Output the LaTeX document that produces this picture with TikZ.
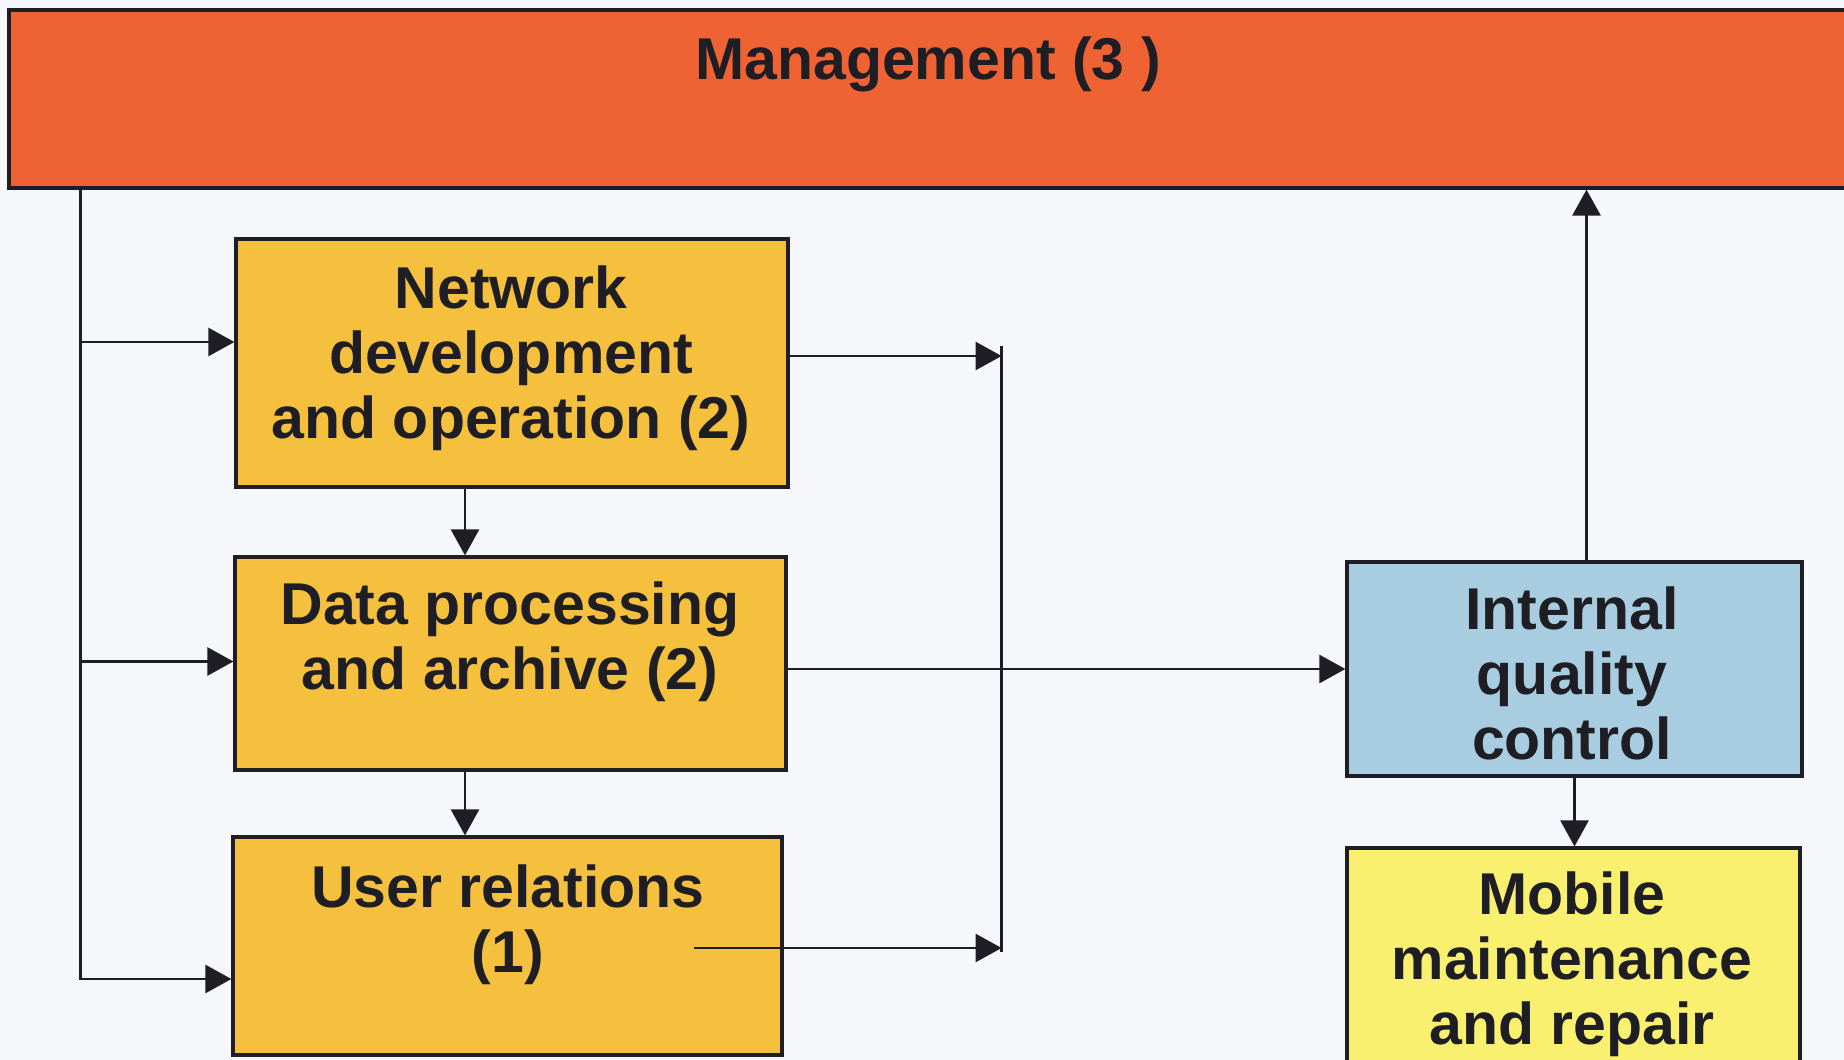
\documentclass[tikz,border=0pt]{standalone}
\usepackage{fontspec}
\setmainfont{Liberation Sans}
\usetikzlibrary{arrows.meta,calc}

\definecolor{mgmtred}{RGB}{238,98,52}
\definecolor{unitorange}{RGB}{245,192,62}
\definecolor{qcblue}{RGB}{168,204,224}
\definecolor{mobyellow}{RGB}{249,240,112}
\definecolor{inkdark}{RGB}{30,30,36}
\definecolor{paper}{RGB}{246,247,251}

\tikzset{
    unit/.style={draw=inkdark, line width=1.6pt, inner sep=0pt},
    boxtext/.style={font=\bfseries\fontsize{29.5}{32.5}\selectfont, align=center, text=inkdark},
    wire/.style={draw=inkdark, line width=1.3pt},
    arr/.style={wire, -{Triangle[length=13pt, width=14pt]}},
}

\begin{document}
\begin{tikzpicture}[x=0.5pt, y=-0.5pt]
        \fill[paper] (0,0) rectangle (1844,1060);
        \clip (0,0) rectangle (1844,1060);

        \node[unit, fill=mgmtred, minimum width=920.5pt, minimum height=89pt] (mgmt) at (929.5,99) {};
        \node[unit, fill=unitorange, minimum width=276pt, minimum height=124pt] (net) at (512,363) {};
        \node[unit, fill=unitorange, minimum width=275.5pt, minimum height=106.5pt] (data) at (510.5,663.5) {};
        \node[unit, fill=unitorange, minimum width=274.5pt, minimum height=109pt] (user) at (507.5,946) {};
        \node[unit, fill=qcblue, minimum width=227.5pt, minimum height=107pt] (iqc) at (1574.5,669) {};
        \node[unit, fill=mobyellow, minimum width=226.5pt, minimum height=121pt] (mob) at (1573.5,969) {};

        \node[boxtext] (mgmttxt) at (928,64) {Management (3 )};
        \node[boxtext] (nettxt) at (511,358) {Network\\development\\and operation (2)};
        \node[boxtext] (datatxt) at (510,642) {Data processing\\and archive (2)};
        \node[boxtext] (usertxt) at (508,925) {User relations\\(1)};
        \node[boxtext] (iqctxt) at (1572,673) {Internal\\quality\\control};
        \node[boxtext] (mobtxt) at (1572,964) {Mobile\\maintenance\\and repair};

        \coordinate (lbus) at ($(mgmt.south west)+(73,0)$);
        \coordinate (lnet) at ($(lbus |- net.west)+(0,-21)$);
        \coordinate (ldata) at ($(lbus |- data.west)+(0,-2)$);
        \draw[arr] (lbus) |- ($(user.west)+(0,33)$);
        \draw[arr] (lnet) -- (lnet -| net.west);
        \draw[arr] (ldata) -- (ldata -| data.west);

        \coordinate (rnet) at ($(net.east)+(212,-7)$);
        \coordinate (rusr) at ($(rnet |- user.east)+(0,2)$);
        \coordinate (uout) at ($(user.east)+(-90,2)$);
        \draw[wire] ($(rnet)+(0,-10)$) -- ($(rusr)+(0,4)$);
        \draw[arr] (rnet -| net.east) -- (rnet);
        \draw[arr] (uout) -- (rusr);

        \draw[arr] ($(net.south)+(-47,0)$) -- ($(data.north)+(-45.5,0)$);
        \draw[arr] ($(data.south)+(-45.5,0)$) -- ($(user.north)+(-42.5,0)$);
        \draw[arr] (data.east |- iqc.west) -- (iqc.west);

        \coordinate (qup) at ($(iqc.north)+(12,0)$);
        \draw[arr] (qup) -- (qup |- mgmt.south);
        \draw[arr] (iqc.south) -- (iqc.south |- mob.north);
    \end{tikzpicture}
\end{document}
